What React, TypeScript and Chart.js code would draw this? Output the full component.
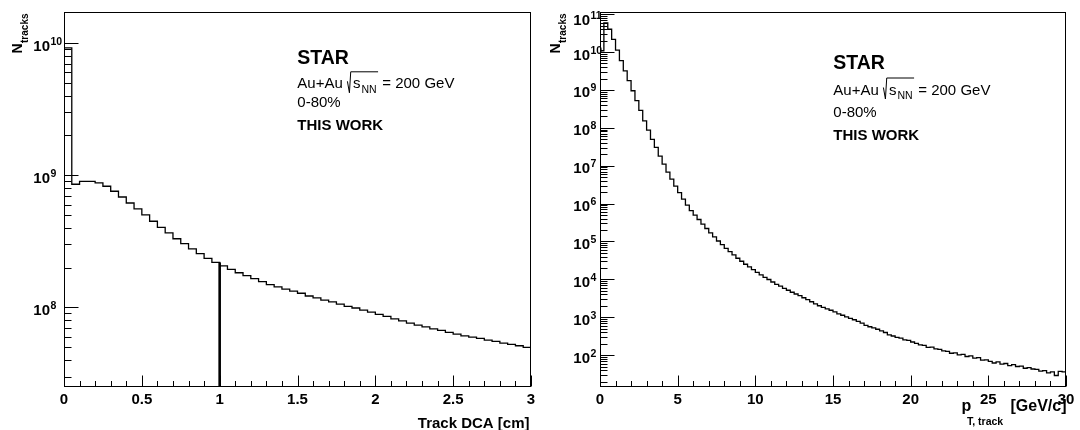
import React, { useEffect, useRef } from "react";
import { Chart, registerables } from "chart.js";

Chart.register(...registerables);

const FONT = "'Liberation Sans', Arial, Helvetica, sans-serif";

// ---------- Left panel: Track DCA ----------
const DCA_BIN_WIDTH = 0.05;
const DCA_COUNTS = [
  9.2e9, 8.55e8, 9.0e8, 9.0e8, 8.75e8, 8.26e8, 7.57e8, 6.85e8, 6.17e8, 5.56e8,
  5.01e8, 4.49e8, 4.04e8, 3.66e8, 3.31e8, 3.04e8, 2.77e8, 2.55e8, 2.35e8, 2.19e8,
  2.06e8, 1.94e8, 1.83e8, 1.74e8, 1.65e8, 1.57e8, 1.49e8, 1.43e8, 1.375e8, 1.33e8,
  1.28e8, 1.22e8, 1.18e8, 1.135e8, 1.1e8, 1.06e8, 1.02e8, 9.9e7, 9.55e7, 9.2e7,
  8.85e7, 8.55e7, 8.2e7, 7.92e7, 7.6e7, 7.35e7, 7.13e7, 6.89e7, 6.7e7, 6.47e7,
  6.28e7, 6.1e7, 5.97e7, 5.83e7, 5.66e7, 5.53e7, 5.37e7, 5.25e7, 5.13e7, 4.99e7,
];
const DCA_X_RANGE = [0, 3];
const DCA_Y_RANGE = [2.5e7, 1.72e10];
const DCA_X_TICKS = [0, 0.5, 1, 1.5, 2, 2.5, 3];
const DCA_X_TICK_LABELS = ["0", "0.5", "1", "1.5", "2", "2.5", "3"];
const DCA_X_MINOR_STEP = 0.1;
const DCA_Y_EXPONENTS = [8, 9, 10];
const DCA_CUT_X = 1.0;
const DCA_CUT_TOP = 2.19e8;

// ---------- Right panel: track pT ----------
const PT_BIN_WIDTH = 0.25;
const PT_COUNTS = [
  1.08e10, 5.9e10, 4.0e10, 2.16e10, 1.13e10, 5.9e9, 3.2e9, 1.75e9, 9.5e8, 5.2e8,
  2.9e8, 1.53e8, 8.7e7, 4.94e7, 3.04e7, 1.79e7, 1.1e7, 6.76e6, 4.4e6, 2.9e6,
  1.94e6, 1.31e6, 9.1e5, 6.5e5, 4.94e5, 3.8e5, 2.86e5, 2.2e5, 1.68e5, 1.32e5,
  1.03e5, 8.3e4, 6.6e4, 5.4e4, 4.4e4, 3.6e4, 3.0e4, 2.5e4, 2.13e4, 1.8e4,
  1.52e4, 1.31e4, 1.13e4, 9.9e3, 8.5e3, 7.4e3, 6.6e3, 5.8e3, 5.15e3, 4.56e3,
  4.1e3, 3.7e3, 3.27e3, 2.92e3, 2.56e3, 2.26e3, 2010, 1830, 1670, 1527,
  1377, 1233, 1127, 1028, 938, 857, 782, 700, 610, 560,
  526, 481, 438, 395, 344, 320, 295, 280, 254, 245,
  222, 205, 187, 180, 160, 162, 147, 142, 130, 126,
  112, 114, 101, 104, 92, 95, 83, 86, 74, 75,
  68, 62, 66, 58, 60, 53, 56, 50, 51, 45,
  47, 43, 42, 38, 39, 34, 36, 29, 37, 36,
];
const PT_X_RANGE = [0, 30];
const PT_Y_RANGE = [14.4, 1.14e11];
const PT_X_TICKS = [0, 5, 10, 15, 20, 25, 30];
const PT_X_TICK_LABELS = ["0", "5", "10", "15", "20", "25", "30"];
const PT_X_MINOR_STEP = 1;
const PT_Y_EXPONENTS = [2, 3, 4, 5, 6, 7, 8, 9, 10, 11];

const INFO_LINES = ["STAR", "Au+Au", "0-80%", "THIS WORK"];

type Pad = { left: number; top: number; right: number; bottom: number };

type PanelCfg = {
  counts: number[];
  binWidth: number;
  xRange: number[];
  yRange: number[];
  xTicks: number[];
  xTickLabels: string[];
  xMinorStep: number;
  yExponents: number[];
  pad: Pad;
  yLabelGap: number;
  info: { x: number; baselines: number[] };
  yTitleX: number;
  drawXTitle: (ctx: CanvasRenderingContext2D) => void;
  cut?: { x: number; top: number };
};

function histPoints(counts: number[], w: number) {
  const pts = counts.map((c, i) => ({ x: i * w, y: c }));
  pts.push({ x: counts.length * w, y: counts[counts.length - 1] });
  return pts;
}

function drawInfo(ctx: CanvasRenderingContext2D, x0: number, b: number[]) {
  ctx.fillStyle = "#000";
  ctx.textAlign = "left";
  ctx.textBaseline = "alphabetic";
  ctx.font = `bold 19.5px ${FONT}`;
  ctx.fillText(INFO_LINES[0], x0, b[0]);

  ctx.font = `15px ${FONT}`;
  const first = INFO_LINES[1] + " ";
  ctx.fillText(first, x0, b[1]);
  const sx = x0 + ctx.measureText(first).width;
  const sPos = sx + 6;
  ctx.fillText("s", sPos, b[1]);
  const sW = ctx.measureText("s").width;
  ctx.font = `10.5px ${FONT}`;
  const nnX = sPos + sW + 1;
  ctx.fillText("NN", nnX, b[1] + 4.5);
  const nnW = ctx.measureText("NN").width;
  const barEnd = nnX + nnW + 1.5;
  ctx.strokeStyle = "#000";
  ctx.lineWidth = 1;
  ctx.beginPath();
  ctx.moveTo(sx + 0.5, b[1] - 7);
  ctx.lineTo(sx + 2.5, b[1] + 4.5);
  ctx.lineTo(sx + 3.8, b[1] - 16.5);
  ctx.lineTo(barEnd, b[1] - 16.5);
  ctx.stroke();
  ctx.font = `15px ${FONT}`;
  ctx.fillText(" = 200 GeV", barEnd, b[1]);

  ctx.fillText(INFO_LINES[2], x0, b[2]);
  ctx.font = `bold 15px ${FONT}`;
  ctx.fillText(INFO_LINES[3], x0, b[3]);
}

function makeOverlay(cfg: PanelCfg) {
  return {
    id: "rootStyle",
    afterDraw(chart: any) {
      const ctx: CanvasRenderingContext2D = chart.ctx;
      const a = chart.chartArea;
      const xs = chart.scales.x;
      const ys = chart.scales.y;
      ctx.save();
      ctx.strokeStyle = "#000";
      ctx.fillStyle = "#000";
      ctx.lineWidth = 1;

      // frame
      ctx.strokeRect(
        Math.round(a.left) + 0.5,
        Math.round(a.top) + 0.5,
        Math.round(a.right - a.left) - 1,
        Math.round(a.bottom - a.top) - 1
      );
      const bottom = Math.round(a.bottom) - 0.5;
      const left = Math.round(a.left) + 0.5;

      // x ticks
      ctx.beginPath();
      const [x0, x1] = cfg.xRange;
      const nMinor = Math.round((x1 - x0) / cfg.xMinorStep);
      for (let i = 0; i <= nMinor; i++) {
        const v = x0 + i * cfg.xMinorStep;
        const px = Math.round(xs.getPixelForValue(v)) + 0.5;
        const isMajor = cfg.xTicks.some((t) => Math.abs(t - v) < 1e-9);
        const len = isMajor ? 11 : 5.5;
        ctx.moveTo(px, bottom);
        ctx.lineTo(px, bottom - len);
      }
      // y ticks (log)
      const [yMin, yMax] = cfg.yRange;
      const eLo = Math.floor(Math.log10(yMin));
      const eHi = Math.ceil(Math.log10(yMax));
      for (let e = eLo; e <= eHi; e++) {
        for (let m = 1; m <= 9; m++) {
          const v = m * Math.pow(10, e);
          if (v < yMin || v > yMax) continue;
          const py = Math.round(ys.getPixelForValue(v)) + 0.5;
          const len = m === 1 ? 14 : 7;
          ctx.moveTo(left, py);
          ctx.lineTo(left + len, py);
        }
      }
      ctx.stroke();

      // x tick labels
      ctx.font = `bold 15px ${FONT}`;
      ctx.textAlign = "center";
      ctx.textBaseline = "alphabetic";
      cfg.xTicks.forEach((t, i) => {
        ctx.fillText(cfg.xTickLabels[i], xs.getPixelForValue(t), 404);
      });

      // y tick labels 10^n
      cfg.yExponents.forEach((e) => {
        const py = ys.getPixelForValue(Math.pow(10, e));
        const base = Math.max(py + 7.5, a.top + 13);
        ctx.font = `bold 15px ${FONT}`;
        ctx.textAlign = "right";
        const xr = a.left - cfg.yLabelGap;
        ctx.fillText("10", xr, base);
        ctx.font = `bold 10.5px ${FONT}`;
        ctx.textAlign = "left";
        ctx.fillText(String(e), xr + 0.5, base - 6);
      });

      // y title: N_tracks (rotated)
      ctx.save();
      ctx.font = `bold 14px ${FONT}`;
      const wN = ctx.measureText("N").width;
      ctx.font = `bold 10px ${FONT}`;
      const wSub = ctx.measureText("tracks").width;
      const endY = 13.5;
      ctx.translate(cfg.yTitleX, endY + wN + wSub + 0.5);
      ctx.rotate(-Math.PI / 2);
      ctx.textAlign = "left";
      ctx.font = `bold 14px ${FONT}`;
      ctx.fillText("N", 0, 0);
      ctx.font = `bold 10px ${FONT}`;
      ctx.fillText("tracks", wN + 0.5, 6);
      ctx.restore();

      // x title
      cfg.drawXTitle(ctx);

      // info text
      drawInfo(ctx, cfg.info.x, cfg.info.baselines);
      ctx.restore();
    },
  };
}

const LEFT_CFG: PanelCfg = {
  counts: DCA_COUNTS,
  binWidth: DCA_BIN_WIDTH,
  xRange: DCA_X_RANGE,
  yRange: DCA_Y_RANGE,
  xTicks: DCA_X_TICKS,
  xTickLabels: DCA_X_TICK_LABELS,
  xMinorStep: DCA_X_MINOR_STEP,
  yExponents: DCA_Y_EXPONENTS,
  pad: { left: 64, top: 12, right: 9, bottom: 43 },
  yLabelGap: 14,
  info: { x: 297.3, baselines: [64, 88.3, 106.7, 130] },
  yTitleX: 21.5,
  drawXTitle: (ctx) => {
    ctx.font = `bold 15px ${FONT}`;
    ctx.textAlign = "right";
    ctx.fillText("Track DCA [cm]", 529.5, 427.5);
  },
  cut: { x: DCA_CUT_X, top: DCA_CUT_TOP },
};

const RIGHT_CFG: PanelCfg = {
  counts: PT_COUNTS,
  binWidth: PT_BIN_WIDTH,
  xRange: PT_X_RANGE,
  yRange: PT_Y_RANGE,
  xTicks: PT_X_TICKS,
  xTickLabels: PT_X_TICK_LABELS,
  xMinorStep: PT_X_MINOR_STEP,
  yExponents: PT_Y_EXPONENTS,
  pad: { left: 60, top: 12, right: 14, bottom: 43 },
  yLabelGap: 10,
  info: { x: 293.3, baselines: [69.3, 94.5, 117.3, 139.5] },
  yTitleX: 20,
  drawXTitle: (ctx) => {
    ctx.textAlign = "left";
    ctx.font = `bold 16px ${FONT}`;
    ctx.fillText("p", 421.5, 411);
    ctx.font = `bold 10.5px ${FONT}`;
    ctx.fillText("T, track", 427, 424.5);
    ctx.font = `bold 16px ${FONT}`;
    ctx.textAlign = "right";
    ctx.fillText("[GeV/c]", 526.5, 410.5);
  },
};

function Panel({ cfg, left }: { cfg: PanelCfg; left: number }) {
  const ref = useRef<HTMLCanvasElement>(null);
  useEffect(() => {
    const datasets: any[] = [
      {
        data: histPoints(cfg.counts, cfg.binWidth),
        stepped: true,
        borderColor: "#000",
        borderWidth: 1.3,
        pointRadius: 0,
        fill: false,
        tension: 0,
      },
    ];
    if (cfg.cut) {
      datasets.push({
        data: [
          { x: cfg.cut.x, y: cfg.yRange[0] },
          { x: cfg.cut.x, y: cfg.cut.top },
        ],
        borderColor: "#000",
        borderWidth: 2.6,
        pointRadius: 0,
        fill: false,
      });
    }
    const chart = new Chart(ref.current as HTMLCanvasElement, {
      type: "line",
      data: { datasets },
      options: {
        responsive: false,
        animation: false,
        devicePixelRatio: 1,
        events: [],
        layout: { padding: cfg.pad },
        plugins: { legend: { display: false }, tooltip: { enabled: false } },
        scales: {
          x: { type: "linear", min: cfg.xRange[0], max: cfg.xRange[1], display: false, bounds: "data" },
          y: { type: "logarithmic", min: cfg.yRange[0], max: cfg.yRange[1], display: false, bounds: "data" },
        },
      } as any,
      plugins: [makeOverlay(cfg)],
    });
    return () => chart.destroy();
  }, [cfg]);
  return (
    <canvas
      ref={ref}
      width={540}
      height={430}
      style={{ position: "absolute", left, top: 0, width: 540, height: 430 }}
    />
  );
}

export default function App() {
  return (
    <div
      style={{
        position: "absolute",
        left: 0,
        top: 0,
        width: 1080,
        height: 430,
        background: "#fff",
        overflow: "hidden",
      }}
    >
      <Panel cfg={LEFT_CFG} left={0} />
      <Panel cfg={RIGHT_CFG} left={540} />
    </div>
  );
}
